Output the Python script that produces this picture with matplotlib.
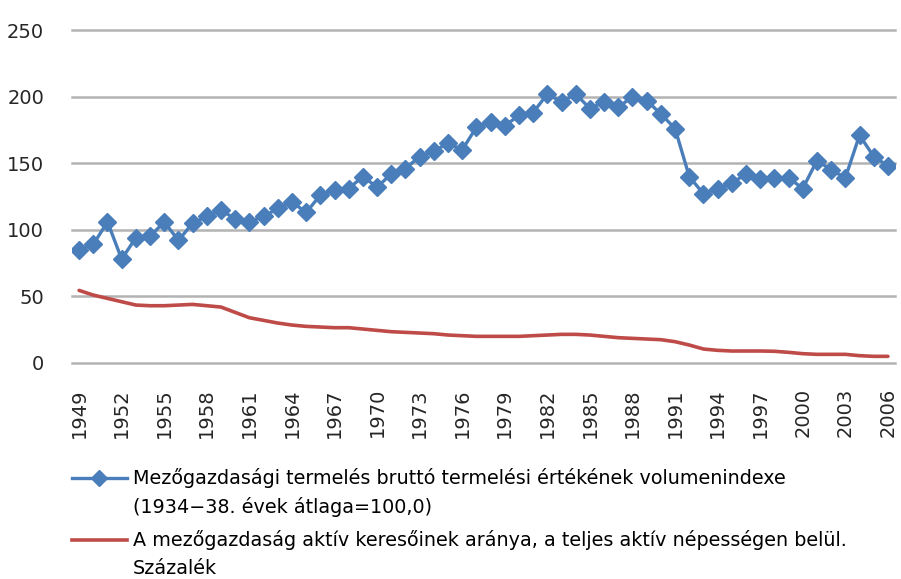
import matplotlib
matplotlib.use('Agg')
import matplotlib.pyplot as plt
from matplotlib.lines import Line2D

# years 1949-2006
years = list(range(1949, 2007))

# volume index of gross agricultural output (1934-38 = 100)
volume_index = [85, 89, 106, 78, 94, 95, 106, 92, 105, 110,
                115, 108, 106, 110, 116, 121, 113, 126, 130, 131,
                140, 132, 142, 146, 155, 159, 165, 160, 177, 181,
                178, 186, 188, 202, 196, 202, 191, 196, 192, 200,
                197, 187, 176, 140, 127, 131, 135, 142, 138, 139,
                139, 131, 152, 145, 139, 171, 155, 148]

# share of agricultural earners in the active population (%)
agri_share = [54.5, 51, 48.5, 46, 43.5, 43, 43, 43.5, 44, 43,
              42, 38, 34, 32, 30, 28.5, 27.5, 27, 26.5, 26.5,
              25.5, 24.5, 23.5, 23, 22.5, 22, 21, 20.5, 20, 20,
              20, 20, 20.5, 21, 21.5, 21.5, 21, 20, 19, 18.5,
              18, 17.5, 16, 13.5, 10.5, 9.5, 9, 9, 9, 8.8,
              8, 7, 6.5, 6.5, 6.5, 5.5, 5, 5]

label_blue = 'Mezőgazdasági termelés bruttó termelési értékének volumenindexe'
label_blue2 = '(1934\u221238. évek átlaga=100,0)'
label_red = 'A mezőgazdaság aktív keresőinek aránya, a teljes aktív népességen belül.'
label_red2 = 'Százalék'

blue = '#4a7ebb'
red = '#be4b48'
grid_col = '#b3b3b3'
text_col = '#262626'

plt.rcParams['font.family'] = ['DejaVu Sans']

fig = plt.figure(figsize=(9.01, 5.79), dpi=100)
ax = fig.add_axes([72 / 901, 1 - 363 / 579, (895 - 72) / 901, (363 - 30) / 579])

x = list(range(len(years)))
ax.plot(x, agri_share, color=red, lw=2.6, solid_joinstyle='round', solid_capstyle='round', zorder=3)
ax.plot(x, volume_index, color=blue, lw=2.4, marker='D', markersize=9.5,
        markerfacecolor=blue, markeredgecolor=blue, zorder=4)

ax.set_xlim(-0.5, len(years) - 0.5)
ax.set_ylim(0, 250)
ax.set_yticks([0, 50, 100, 150, 200, 250])
ax.yaxis.grid(True, color=grid_col, lw=1.8)
for gl in ax.get_ygridlines():
    gl.set_clip_on(False)
ax.set_axisbelow(True)
for s in ax.spines.values():
    s.set_visible(False)

tick_pos = [i for i, y in enumerate(years) if (y - 1949) % 3 == 0]
ax.set_xticks(tick_pos)
ax.set_xticklabels([str(years[i]) for i in tick_pos], rotation=90)
ax.tick_params(axis='both', length=0, labelsize=14, colors=text_col)
ax.tick_params(axis='x', pad=18)
ax.tick_params(axis='y', pad=20)

# legend drawn by hand so the handle sits on the first text line
fig.add_artist(Line2D([72 / 901, 127 / 901], [1 - 478 / 579] * 2, color=blue, lw=2.4))
fig.add_artist(Line2D([99 / 901], [1 - 478 / 579], color=blue, marker='D', markersize=8))
fig.add_artist(Line2D([72 / 901, 127 / 901], [1 - 540 / 579] * 2, color=red, lw=2.6))

fs = 13.8
fig.text(133 / 901, 1 - 478 / 579, label_blue, fontsize=fs, va='center', color='black')
fig.text(133 / 901, 1 - 507 / 579, label_blue2, fontsize=fs, va='center', color='black')
fig.text(133 / 901, 1 - 540 / 579, label_red, fontsize=fs, va='center', color='black')
fig.text(133 / 901, 1 - 568 / 579, label_red2, fontsize=fs, va='center', color='black')

fig.savefig('out.png', dpi=100)
